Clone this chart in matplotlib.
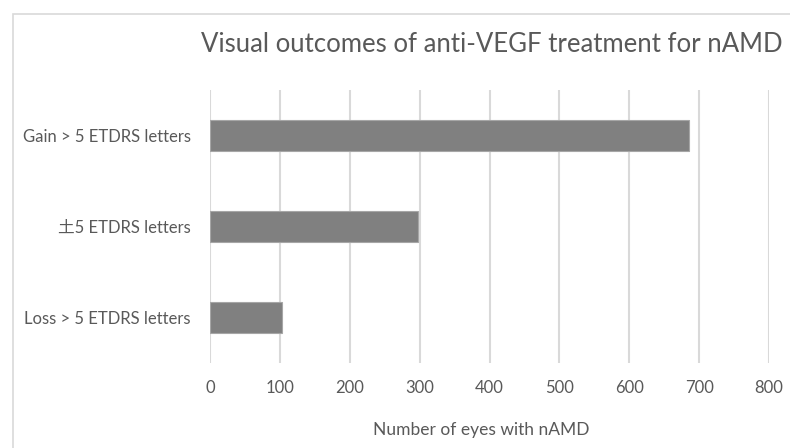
import matplotlib
matplotlib.use("Agg")
import matplotlib.pyplot as plt
from matplotlib.patches import Rectangle

# 数据
categories = ["Loss > 5 ETDRS letters", "土5 ETDRS letters", "Gain > 5 ETDRS letters"]
eyes = [103, 298, 686]
x_ticks = [0, 100, 200, 300, 400, 500, 600, 700, 800]

title = "Visual outcomes of anti-VEGF treatment for nAMD"
x_label = "Number of eyes with nAMD"

plt.rcParams["font.family"] = ["Lato", "Noto Sans CJK SC", "DejaVu Sans"]
text_color = "#595959"
grid_color = "#d9d9d9"

fig = plt.figure(figsize=(7.9, 4.48), dpi=100)
ax = fig.add_axes([210 / 790, 1 - 363 / 448, (769 - 210) / 790, (363 - 90) / 448])

# 图表外框
fig.patches.append(Rectangle((13 / 790, -0.05), 1.0, 1 - 14 / 448 + 0.05,
                             transform=fig.transFigure, fill=False,
                             edgecolor=grid_color, linewidth=1.2))

ax.barh(range(len(categories)), eyes, height=0.35, color="#808080",
        edgecolor="#a6a6a6", linewidth=0.8, zorder=3)

ax.set_xlim(0, 800)
ax.set_ylim(-0.5, len(categories) - 0.5)
ax.set_xticks(x_ticks)
ax.set_xticklabels([str(t) for t in x_ticks])
ax.set_yticks(range(len(categories)))
ax.set_yticklabels(categories)

ax.xaxis.grid(True, color=grid_color, linewidth=1.5, zorder=0)
for s in ax.spines.values():
    s.set_visible(False)
ax.tick_params(axis="both", length=0, colors=text_color, labelsize=12)
ax.tick_params(axis="x", pad=12)
ax.tick_params(axis="y", pad=14)

ax.set_xlabel(x_label, fontsize=12.5, color=text_color)
ax.xaxis.set_label_coords(0.485, -0.215)
fig.text(492 / 790, 1 - 45 / 448, title, ha="center", va="center",
         fontsize=18.5, color=text_color)

fig.savefig("out.png", dpi=100)
